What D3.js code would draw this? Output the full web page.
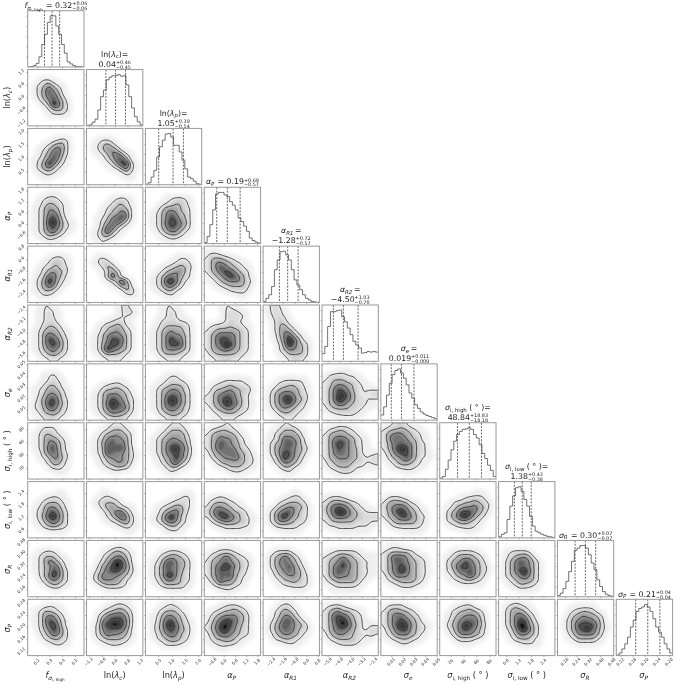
<!DOCTYPE html>
<html><head><meta charset="utf-8">
<script src="https://cdn.jsdelivr.net/npm/d3@7"></script>
<style>
html,body{margin:0;padding:0;background:#fff;}
svg{display:block;filter:blur(0.35px);}
text{font-family:"DejaVu Sans",sans-serif;fill:#222;}
</style></head><body><div id="chart"></div>
<script>
// ---------- parameters ----------
const paramLabels = [
 [["f","i"],["σ","si"],["i, high","ss"]],
 [["ln(","n"],["λ","i"],["c","si"],[")","n"]],
 [["ln(","n"],["λ","i"],["p","si"],[")","n"]],
 [["α","i"],["P","si"]],
 [["α","i"],["R1","si"]],
 [["α","i"],["R2","si"]],
 [["σ","i"],["e","si"]],
 [["σ","i"],["i, high","s"],[" ( ° )","n"]],
 [["σ","i"],["i, low","s"],[" ( ° )","n"]],
 [["σ","i"],["R","si"]],
 [["σ","i"],["P","si"]]
];
const paramMin = [0.128,-1.31,0.01,-1.05,-2.97,-6.0,0.0008,3.1,0.24,0.11,0.106];
const paramMax = [0.572,1.31,2.13,1.98,0.91,-2.05,0.0505,90.2,2.95,0.493,0.292];
const paramTicks = [
 [0.2,0.3,0.4,0.5],[-1.2,-0.6,0,0.6,1.2],[0.5,1.0,1.5,2.0],[-0.6,0,0.6,1.2,1.8],
 [-2.4,-1.6,-0.8,0,0.8],[-5.6,-4.8,-4.0,-3.2,-2.4],[0.01,0.02,0.03,0.04,0.05],
 [20,40,60,80],[0.6,1.2,1.8,2.4],[0.16,0.24,0.32,0.40,0.48],[0.12,0.16,0.20,0.24,0.28]
];
const tickDigits = [1,1,1,1,1,1,2,0,1,2,2];
const medians = [0.32,0.04,1.05,0.19,-1.28,-4.50,0.019,48.84,1.38,0.30,0.21];
const errUp   = [0.06,0.46,0.39,0.69,0.72,1.03,0.011,18.83,0.43,0.07,0.04];
const errDown = [0.06,0.45,0.54,0.57,0.57,0.70,0.009,18.18,0.38,0.07,0.04];
const decimals = [2,2,2,2,2,2,3,2,2,2,2];
const twoLineTitle = [false,true,true,false,true,true,true,true,true,false,false];

// ---------- 1-D histograms (percent of the peak, 20 bins) ----------
const histograms = [
 [0,1,3,7,20,44,64,87,100,100,80,64,44,27,10,6,3,1,1,0],
 [1,2,7,13,31,57,70,90,95,98,98,100,97,98,80,57,35,18,8,2],
 [1,4,15,28,54,74,87,99,100,93,77,77,64,48,31,15,12,7,2,1],
 [2,14,37,66,97,100,100,95,92,82,75,66,50,43,34,24,11,6,3,1],
 [2,8,15,31,64,83,99,100,93,83,64,44,34,25,15,8,5,2,1,0],
 [15,29,68,97,97,99,100,87,77,65,52,39,32,26,16,17,19,18,19,18],
 [10,26,49,72,89,97,100,92,82,69,53,43,30,23,16,12,9,7,5,3],
 [2,5,19,37,57,74,87,93,97,98,100,97,87,80,67,50,40,27,17,5],
 [2,7,10,36,62,82,98,100,91,75,62,42,23,13,10,7,5,3,2,1],
 [2,7,16,30,49,69,91,95,100,100,95,82,66,53,33,20,10,5,2,1],
 [1,5,13,23,36,56,69,86,92,95,100,95,86,72,56,46,36,23,13,5]
];

// ---------- 2-D density, 12x12 cells per panel, top row first, level 0-9 ----------
const densityRow2 = [
 "000000000000 000000000000 001331000000 013464210000 013586410000 013577520000 002468641000 000249742000 000024542000 000012221000"
];
const densityRow3 = [
 "000000000000 000000000000 000001232000 000124552000 001246752000 001357742000 012468631000 013597421000 013564210000 001232100000 000110000000",
 "000000000000 000000000000 001221000000 012453100000 012466410000 001246752100 000135785100 000013689310 000001257310 000000013200 000000001100"
];
const densityRow4 = [
 "000000000000 000011100000 001233210000 001344321000 012465421000 012467521000 012478631000 012489742100 012478642200 012467531000 001243210000 000011100000",
 "000000000000 000000000000 000001232100 000012443100 000124454200 000134576200 001246786200 001357763100 001477521000 012585210000 012442100000 001210000000",
 "000000000000 000000000000 000012332100 000123443100 001355543200 012467644200 012468754200 012478865200 012468764200 001356642100 000123321000 000011100000"
];
const densityRow5 = [
 "000000000000 000000000000 000012321000 000124431000 001234432000 001356542000 012477531000 013597421000 013576310000 012443100000 001221000000",
 "000000000000 000000000000 002210000000 012431000000 001254100000 000136410000 000148510000 000012595100 000001256200 000000014410 000000001210",
 "000000000000 000000000000 000000122100 000001233200 000123454300 001245664200 012467653200 012489742100 012467531000 001244210000 000012100000",
 "000000000000 122100000000 244432100000 246654321000 246875432100 245788643200 124578864200 012456664310 001234444200 000012333100 000000011000"
];
const densityRow6 = [
 "001221000000 001232100000 001232100000 001233100000 001344310000 012455421000 012576531000 012588642000 012578742000 012467542000 001345431000 000122210000",
 "000000123100 000000023310 000000122100 000012331000 001244542100 001345653200 012467664200 012468874200 012578864200 012597654200 001344432000 000122221000",
 "000122100000 000123210000 000123210000 001233322100 001344443200 012456553200 012467664200 012469774200 012468884200 012466654200 001344432100 000122221000",
 "000122100000 000023321000 000023332000 000123321000 123334332100 234555543200 246777643200 246887643200 246799643200 245676543200 134444432100 012333221000",
 "123210000000 023310000000 013321000000 002431000000 002453100000 002465310000 001468531000 001369852100 000259754200 000246654200 000124444200 000012332100"
];
const densityRow7 = [
 "000000000000 000000000000 000123100000 000123210000 001244310000 012355421000 012466531000 013578632000 023588642000 023477532000 012445431000 001233210000",
 "000000000000 000000000000 000000000000 000000110000 000123321000 001344543100 012466654200 012468764310 012479875310 012468776310 001356654210 000123332100",
 "000000000000 000000000000 000012210000 000123321000 001234443100 012456653200 012467764200 012479864200 012478864200 012467653200 001345543100 000123321000",
 "000000000000 000000000000 000000000000 000122222100 012334332200 024456544310 235677643200 235788653200 235698753210 124567543200 012344432100 001222210000",
 "000000000000 000000000000 000000000000 000122222000 001334432100 013455543100 024677643200 024689754200 024678643100 013565432100 001344321000 000122210000",
 "000000000000 000111000000 023332210000 234443321000 235665432100 246876432222 246897532233 246987533222 245775433211 134444332100 012333321000 000011100000"
];
const densityRow8 = [
 "000111000000 001333100000 012443210000 012465421000 012467531000 012478531000 001467632000 001246642000 000135531000 000013321000 000000110000",
 "000012221000 000124442100 001355654200 012467665200 012578675200 012487885300 012487665310 001356665310 001245665200 000123443100 000001100000",
 "000012221000 000124442000 001245554100 012456654200 012467775200 012468976300 012467875300 001356875200 001246853100 000124421000 000012100000",
 "000122100000 023443210000 245555421000 245766532000 246876542100 246867643200 135677754310 024566764320 002455554320 000124443210 000001221000",
 "000122100000 001244421000 012455541000 012477653000 024578753100 024677654200 024688653100 013597642000 002466531000 000244210000 000012100000",
 "000111000000 023443210000 245554321000 246776532100 247886532100 246876542100 246776542112 245666543233 134555433223 023444322111 001233210000",
 "012332100000 234454321000 256765432100 257776442100 246777643200 246898643200 135788643210 024568642210 012455432100 001233321000 000001100000"
];
const densityRow9 = [
 "000000000000 000000000000 000000110000 000123210000 001344421000 012466531000 013478642000 013589742000 012467642000 001345432000 000011110000",
 "000000000000 000000000000 000110000000 001232100000 012444310000 001356432100 000135774200 000124686310 000012356310 000000123210 000000001100",
 "000000000000 000000000000 000000001100 000000123200 000012333200 001234553200 001356753100 012479742100 012467642100 000134421000 000012210000",
 "000000000000 000000000000 000000000000 012321000000 134443210000 246654321000 357876443100 246897643210 024566544210 001233332200 000011111100",
 "000000000000 000000000000 000000110000 000012331000 000234443100 002456654200 024678643200 024797543200 024665433100 002333321000 000011110000",
 "000000000000 000000000000 000000000000 123321000000 245554321000 357876432100 357997543222 246776543333 234444433322 022333322210 000111111100",
 "000000000000 000000000000 000000000000 023321000000 245554210000 256776431000 246897542100 245688643200 024555543100 002333332100 000011111000",
 "000000000000 000000000000 000000011100 000012333200 001334454320 012456675420 024588865310 024689753200 023455432000 001233321000 000001110000"
];
const densityRow10 = [
 "000000000000 000000000000 001232100000 012444210000 012476421000 012457631000 012458742000 002469742000 001356542000 000134421000 000001100000",
 "000000000000 000001221000 000124543100 000245664200 001357985200 002568986300 013578875310 024766654200 024666542100 001344432000 000011110000",
 "000000000000 000000000000 000123321000 001345543100 012478654200 013587654200 013577653200 013589643200 012466543200 001344442100 000011111000",
 "000000000000 000111000000 012333210000 134576432100 245676543200 246798643200 246877543100 246778532100 135866431000 013444321000 000122100000",
 "000000000000 000000000000 002333100000 024576420000 024676531000 024668642000 013567653100 002456653200 001244543200 000123333200 000000111000",
 "000000000000 000000000000 012333321000 234565432122 245686543222 246787543212 246876543222 246766543210 134555542100 012333321000 001111110000",
 "000000000000 012210000000 234444310000 247776432100 246876543200 246787543200 246797543210 135766543200 023455543100 001233321000 000011100000",
 "000000000000 000000000000 001233321000 012455543100 024568754200 024688764310 023577864310 012456864200 001234432100 000011111000",
 "000000000000 000000000000 012333200000 013456520000 024687642000 024677642000 024689742000 024568642000 012455542000 001244321000 000011110000"
];
const densityRow11 = [
 "000000000000 000122100000 012443210000 012566420000 012587531000 012579631000 002468742000 001357642000 000234432000 000012321000",
 "000000111000 000012332100 000234554200 002467775300 002678886300 013789986300 013677775200 013576654200 002344443100 000123321000",
 "000011000000 000123210000 001344421000 012466542000 012578643100 013589753200 013578754200 012467643200 002345543100 000133321000",
 "000000000000 000123321000 012344543100 124566654200 135788754200 246898653200 246897643200 135776543200 124455421000 012333210000 000110000000",
 "000011000000 000233100000 002354310000 002466420000 013578642000 024687654200 024677643200 013566542100 002344321000 000012210000",
 "000000000000 123321000000 245644321000 247876432000 247897532100 246898542122 246776532233 135665433232 023444432110 001233321000",
 "000000000000 023331000000 245544310000 246775431000 246787542000 246898643210 135788543200 124666542100 012344321000 000122100000",
 "000000000000 000123310000 002344543100 012456664200 013567775200 024579875300 013578764200 002466654200 000233321000 000011100000",
 "000110000000 013432100000 024554210000 024676420000 024688531000 024699642000 013589742000 002466542000 001344421000 000012221000",
 "000000000000 000111110000 001234431000 002456554200 013567765300 013588886310 013578975310 002466665200 001244442100 000011111000"
];
const densityRows = [[],densityRow2,densityRow3,densityRow4,densityRow5,densityRow6,densityRow7,densityRow8,densityRow9,densityRow10,densityRow11];
const fillLevels = [2,2.5,3,3.5,4,4.5,5,5.5,6,6.5,7,7.5,8,8.5];
const lineLevels = [2,4,5.8,7.5];
const haloLevel = 0.2;

// ---------- layout ----------
const SIZE=684, nP=11, left=27.7, top0=10.7, step=58.86, panel=56.3, UP=4, G=12*UP;
const svg=d3.select("#chart").append("svg").attr("width",SIZE).attr("height",SIZE);
const defs=svg.append("defs");
defs.append("filter").attr("id","halo").attr("x","-30%").attr("y","-30%").attr("width","160%").attr("height","160%")
  .append("feGaussianBlur").attr("stdDeviation",2.2);
const grayOf=d3.scaleLinear().domain([2,4,6,8,8.5]).range(["#e6e6e6","#bdbdbd","#868686","#3a3a3a","#141414"]).clamp(true);

const xS=paramMin.map((m,i)=>d3.scaleLinear().domain([m,paramMax[i]]).range([0,panel]));
const yS=paramMin.map((m,i)=>d3.scaleLinear().domain([m,paramMax[i]]).range([panel,0]));
const fmtTick=i=>v=>{const s=d3.format("."+tickDigits[i]+"f")(Math.abs(v));return (v<0?"\u2212":"")+s;};

function styleAxis(g){
  g.select(".domain").remove();
  g.selectAll(".tick line").attr("stroke","#777").attr("stroke-width",0.5);
}
function runs(text,parts,size){
  let prev=0;
  const off={n:0,i:0,s:size*0.22,si:size*0.22,ss:size*0.4};
  const fs={n:1,i:1,s:0.7,si:0.7,ss:0.5};
  parts.forEach(([t,k])=>{
    text.append("tspan").text(t)
      .attr("font-size",size*fs[k])
      .attr("font-style",(k==="i"||k==="si")?"italic":"normal")
      .attr("dy",off[k]-prev);
    prev=off[k];
  });
  if(prev!==0) text.append("tspan").text("\u200a").attr("dy",-prev);
}
function surface(txt){
  const rowsTxt=txt.split(" "), cells=[];
  for(let j=0;j<12;j++){
    const line=(rowsTxt[j]||"").padEnd(12,"0").slice(0,12);
    for(let i=0;i<12;i++) cells.push(+line[i]);
  }
  const out=new Float64Array(G*G);
  const at=(i,j)=>cells[Math.max(0,Math.min(11,j))*12+Math.max(0,Math.min(11,i))];
  for(let y=0;y<G;y++)for(let x=0;x<G;x++){
    const u=(x+.5)/UP-.5, v=(y+.5)/UP-.5, i=Math.floor(u), j=Math.floor(v), a=u-i, b=v-j;
    out[y*G+x]=(1-a)*(1-b)*at(i,j)+a*(1-b)*at(i+1,j)+(1-a)*b*at(i,j+1)+a*b*at(i+1,j+1);
  }
  if(d3.blur2) d3.blur2({data:out,width:G,height:G},1.0);
  return Array.from(out);
}

for(let r=0;r<nP;r++){
  for(let c=0;c<=r;c++){
    const g=svg.append("g").attr("transform",`translate(${left+c*step},${top0+r*step})`);
    const id=`clip-${r}-${c}`;
    defs.append("clipPath").attr("id",id).append("rect").attr("width",panel).attr("height",panel);
    const body=g.append("g").attr("clip-path",`url(#${id})`);
    if(r===c){
      const vals=histograms[r];
      const bw=(paramMax[r]-paramMin[r])/vals.length;
      const yh=d3.scaleLinear().domain([0,110]).range([panel,0]);
      const pts=vals.map((v,i)=>[paramMin[r]+i*bw,v]);
      pts.push([paramMax[r],vals[vals.length-1]]);
      body.append("path")
        .attr("d",d3.line().x(d=>xS[r](d[0])).y(d=>yh(d[1])).curve(d3.curveStepAfter)(pts))
        .attr("fill","none").attr("stroke","#444").attr("stroke-width",0.75);
      [medians[r]-errDown[r],medians[r],medians[r]+errUp[r]].forEach(q=>{
        body.append("line").attr("x1",xS[r](q)).attr("x2",xS[r](q)).attr("y1",0).attr("y2",panel)
          .attr("stroke","#333").attr("stroke-width",0.75).attr("stroke-dasharray","2,1.3");
      });
      g.append("g").call(d3.axisLeft(yh).tickValues([20,40,60,80,100]).tickSize(1.5).tickFormat("")).call(styleAxis);
    } else {
      const cells=surface(densityRows[r][c]);
      const xd=paramMax[c]-paramMin[c], yd=paramMax[r]-paramMin[r];
      const sx=xS[c], sy=yS[r], lox=paramMin[c], hiy=paramMax[r];
      const proj=d3.geoTransform({point(u,v){
        this.stream.point(sx(lox+u/G*xd),sy(hiy-v/G*yd));
      }});
      const path=d3.geoPath(proj);
      const cs=t=>d3.contours().size([G,G]).thresholds([t])(cells)[0];
      body.append("path").attr("d",path(cs(haloLevel))).attr("fill","#eeeeee").attr("filter","url(#halo)");
      fillLevels.forEach(t=>{
        body.append("path").attr("d",path(cs(t))).attr("fill",grayOf(t));
      });
      lineLevels.forEach(t=>{
        body.append("path").attr("d",path(cs(t))).attr("fill","none")
          .attr("stroke","#2e2e2e").attr("stroke-width",0.85).attr("stroke-linejoin","round");
      });
    }
    // spines
    g.append("rect").attr("width",panel).attr("height",panel).attr("fill","none")
      .attr("stroke","#999").attr("stroke-width",1);
    // axes
    g.append("g").attr("transform",`translate(0,${panel})`)
      .call(d3.axisBottom(xS[c]).tickValues(paramTicks[c]).tickSize(1.5).tickFormat("")).call(styleAxis);
    if(r===nP-1){
      paramTicks[c].forEach(t=>{
        g.append("text").attr("transform",`translate(${xS[c](t)},${panel+6.3}) rotate(-45)`)
          .attr("text-anchor","middle").attr("dominant-baseline","middle")
          .attr("font-size",4.1).text(fmtTick(c)(t));
      });
      const lab=g.append("text").attr("x",panel/2).attr("y",panel+22.5).attr("text-anchor","middle");
      runs(lab,paramLabels[c],8.2);
    }
    if(c!==r){
      g.append("g").call(d3.axisLeft(yS[r]).tickValues(paramTicks[r]).tickSize(1.5).tickFormat("")).call(styleAxis);
    }
    if(c===0&&r>0){
      paramTicks[r].forEach(t=>{
        g.append("text").attr("transform",`translate(-6.2,${yS[r](t)}) rotate(-45)`)
          .attr("text-anchor","middle").attr("dominant-baseline","middle")
          .attr("font-size",4.1).text(fmtTick(r)(t));
      });
      const lab=g.append("text").attr("transform",`translate(-17.5,${panel/2}) rotate(-90)`).attr("text-anchor","middle");
      runs(lab,paramLabels[r],8.2);
    }
    if(r===c) drawTitle(g,r);
  }
}

function signed(v,d){return (v<0?"\u2212":"")+d3.format("."+d+"f")(Math.abs(v));}
function drawTitle(g,i){
  const fs=7.8, sfs=4.9, d=decimals[i];
  const base=-2.8;
  const t=g.append("g");
  const main=t.append("text").attr("y",base).attr("font-size",fs);
  if(twoLineTitle[i]){
    const firstLine=g.append("text").attr("x",panel/2).attr("y",base-10).attr("text-anchor","middle");
    runs(firstLine,paramLabels[i],fs);
    firstLine.append("tspan").text("=").attr("font-size",fs);
    main.text(signed(medians[i],d));
  } else {
    runs(main,paramLabels[i],fs);
    main.append("tspan").text(" = "+signed(medians[i],d)).attr("font-size",fs);
  }
  const w=main.node().getComputedTextLength();
  const up=t.append("text").attr("x",w).attr("y",base-2.9).attr("font-size",sfs).text("+"+signed(errUp[i],d));
  const dn=t.append("text").attr("x",w).attr("y",base+2).attr("font-size",sfs).text("\u2212"+signed(errDown[i],d));
  const sw=Math.max(up.node().getComputedTextLength(),dn.node().getComputedTextLength());
  t.attr("transform",`translate(${panel/2-(w+sw)/2},0)`);
}
</script></body></html>
